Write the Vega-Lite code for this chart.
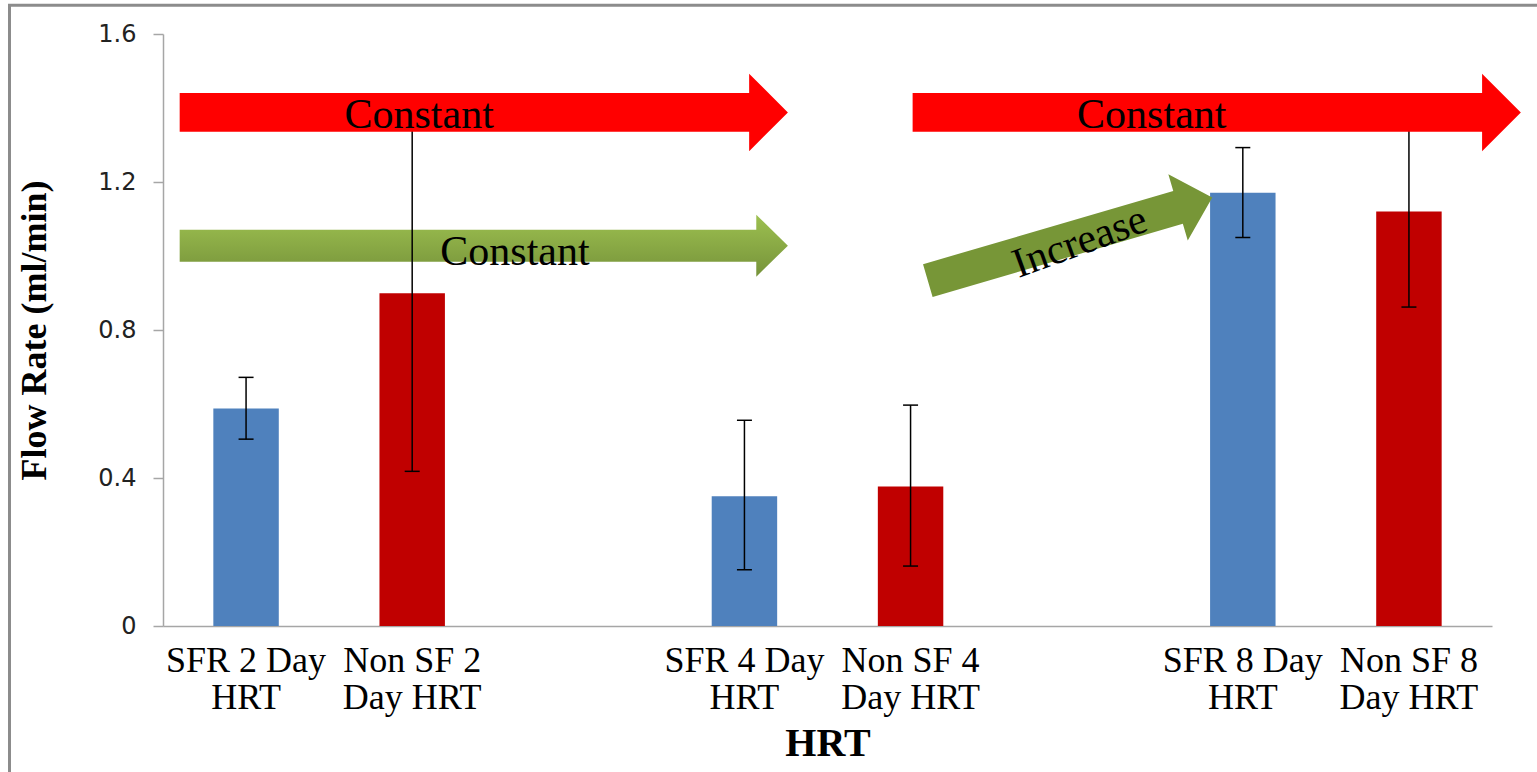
{
  "$schema": "https://vega.github.io/schema/vega-lite/v6.json",
  "width": 1329,
  "height": 592,
  "autosize": {"type": "none"},
  "padding": {"left": 163, "top": 34, "right": 45, "bottom": 146},
  "background": "white",
  "config": {"view": {"stroke": null}, "font": "Liberation Serif"},
  "datasets": {
    "bars": [
      {"cat": "SFR 2 Day|HRT", "flow": 0.588, "lo": 0.505, "hi": 0.672, "type": "SFR"},
      {"cat": "Non SF 2|Day HRT", "flow": 0.899, "lo": 0.418, "hi": 1.38, "type": "Non SF"},
      {"cat": "SFR 4 Day|HRT", "flow": 0.351, "lo": 0.152, "hi": 0.556, "type": "SFR"},
      {"cat": "Non SF 4|Day HRT", "flow": 0.377, "lo": 0.162, "hi": 0.597, "type": "Non SF"},
      {"cat": "SFR 8 Day|HRT", "flow": 1.171, "lo": 1.05, "hi": 1.293, "type": "SFR"},
      {"cat": "Non SF 8|Day HRT", "flow": 1.12, "lo": 0.862, "hi": 1.38, "type": "Non SF"}
    ],
    "arrows": [
      {"kind": "red", "x": 1.931, "y": 1.388},
      {"kind": "red", "x": 6.343, "y": 1.388},
      {"kind": "green", "x": 1.931, "y": 1.028},
      {"kind": "increase", "x": 5.46, "y": 1.046}
    ],
    "notes": [
      {"kind": "constant", "text": "Constant", "x": 1.542, "y": 1.346},
      {"kind": "constant", "text": "Constant", "x": 5.952, "y": 1.346},
      {"kind": "constant", "text": "Constant", "x": 2.119, "y": 0.977},
      {"kind": "increase", "text": "Increase", "x": 5.545, "y": 1.005}
    ]
  },
  "layer": [
    {
      "data": {"values": [{}]},
      "mark": {"type": "rect", "filled": false, "fill": null, "stroke": "#8c8c8c", "strokeWidth": 3},
      "encoding": {
        "x": {"datum": -0.924, "type": "quantitative", "scale": {"domain": [0, 8], "nice": false}, "axis": null},
        "x2": {"datum": 8.41},
        "y": {"datum": 1.678, "type": "quantitative", "scale": {"domain": [0, 1.6]}, "title": "Flow Rate (ml/min)"},
        "y2": {"datum": -0.47}
      }
    },
    {
      "data": {"name": "bars"},
      "mark": {"type": "bar"},
      "encoding": {
        "x": {
          "field": "cat", "type": "nominal", "sort": null,
          "scale": {"domain": ["SFR 2 Day|HRT", "Non SF 2|Day HRT", "gap1", "SFR 4 Day|HRT", "Non SF 4|Day HRT", "gap2", "SFR 8 Day|HRT", "Non SF 8|Day HRT"], "paddingInner": 0.606, "paddingOuter": 0.303},
          "axis": {
            "title": "HRT", "ticks": false, "domainColor": "#a6a6a6", "domainWidth": 1.5,
            "labelExpr": "indexof(datum.label, 'gap') === 0 ? '' : split(datum.label, '|')",
            "labelFont": "Liberation Serif", "labelFontSize": 36, "labelColor": "#000", "labelAngle": 0,
            "labelPadding": 17, "labelLineHeight": 37, "labelLimit": 0, "labelOverlap": false, "labelBaseline": "top",
            "titleFont": "Liberation Serif", "titleFontSize": 40, "titleFontWeight": "bold", "titleColor": "#000", "titlePadding": 8
          }
        },
        "y": {
          "field": "flow", "type": "quantitative", "scale": {"domain": [0, 1.6]}, "title": "Flow Rate (ml/min)",
          "axis": {
            "values": [0, 0.4, 0.8, 1.2, 1.6], "format": ".1~f", "grid": false,
            "tickSize": 10, "tickColor": "#a6a6a6", "tickWidth": 1.5, "domainColor": "#a6a6a6", "domainWidth": 1.5,
            "labelFont": "DejaVu Sans", "labelFontSize": 24, "labelColor": "#222", "labelPadding": 17,
            "titleFont": "Liberation Serif", "titleFontSize": 36, "titleFontWeight": "bold", "titleColor": "#000", "titlePadding": 44
          }
        },
        "color": {"field": "type", "type": "nominal", "scale": {"domain": ["SFR", "Non SF"], "range": ["#4f81bd", "#c00000"]}, "legend": null}
      }
    },
    {
      "data": {"name": "arrows"},
      "transform": [{"filter": "datum.kind === 'green'"}],
      "mark": {
        "type": "point", "filled": true, "opacity": 1, "strokeWidth": 0, "size": 384400,
        "shape": "M-0.981,-0.0516L0.879,-0.0516L0.879,-0.1L0.981,0L0.879,0.1L0.879,0.0516L-0.981,0.0516Z",
        "fill": {"gradient": "linear", "x1": 0, "y1": 0, "x2": 0, "y2": 1, "stops": [{"offset": 0, "color": "#9dc050"}, {"offset": 1, "color": "#76933a"}]}
      },
      "encoding": {
        "x": {"field": "x", "type": "quantitative", "scale": {"domain": [0, 8], "nice": false}, "axis": null},
        "y": {"field": "y", "type": "quantitative", "scale": {"domain": [0, 1.6]}, "title": "Flow Rate (ml/min)"}
      }
    },
    {
      "data": {"name": "arrows"},
      "transform": [{"filter": "datum.kind === 'increase'"}],
      "mark": {
        "type": "point", "filled": true, "opacity": 1, "strokeWidth": 0, "size": 96100, "angle": 343.7,
        "shape": "M-0.956,-0.11L0.726,-0.11L0.726,-0.223L0.956,0L0.726,0.223L0.726,0.11L-0.956,0.11Z",
        "fill": "#779637"
      },
      "encoding": {
        "x": {"field": "x", "type": "quantitative", "scale": {"domain": [0, 8], "nice": false}, "axis": null},
        "y": {"field": "y", "type": "quantitative", "scale": {"domain": [0, 1.6]}, "title": "Flow Rate (ml/min)"}
      }
    },
    {
      "data": {"name": "bars"},
      "mark": {"type": "rule", "color": "#000", "strokeWidth": 1.5},
      "encoding": {
        "x": {"field": "cat", "type": "nominal", "sort": null,
          "scale": {"domain": ["SFR 2 Day|HRT", "Non SF 2|Day HRT", "gap1", "SFR 4 Day|HRT", "Non SF 4|Day HRT", "gap2", "SFR 8 Day|HRT", "Non SF 8|Day HRT"], "paddingInner": 0.606, "paddingOuter": 0.303},
          "axis": null},
        "y": {"field": "lo", "type": "quantitative", "scale": {"domain": [0, 1.6]}, "title": "Flow Rate (ml/min)"},
        "y2": {"field": "hi"}
      }
    },
    {
      "data": {"name": "bars"},
      "mark": {"type": "tick", "orient": "horizontal", "size": 15, "thickness": 1.5, "color": "#000", "opacity": 1},
      "encoding": {
        "x": {"field": "cat", "type": "nominal", "sort": null,
          "scale": {"domain": ["SFR 2 Day|HRT", "Non SF 2|Day HRT", "gap1", "SFR 4 Day|HRT", "Non SF 4|Day HRT", "gap2", "SFR 8 Day|HRT", "Non SF 8|Day HRT"], "paddingInner": 0.606, "paddingOuter": 0.303},
          "axis": null},
        "y": {"field": "lo", "type": "quantitative", "scale": {"domain": [0, 1.6]}, "title": "Flow Rate (ml/min)"}
      }
    },
    {
      "data": {"name": "bars"},
      "mark": {"type": "tick", "orient": "horizontal", "size": 15, "thickness": 1.5, "color": "#000", "opacity": 1},
      "encoding": {
        "x": {"field": "cat", "type": "nominal", "sort": null,
          "scale": {"domain": ["SFR 2 Day|HRT", "Non SF 2|Day HRT", "gap1", "SFR 4 Day|HRT", "Non SF 4|Day HRT", "gap2", "SFR 8 Day|HRT", "Non SF 8|Day HRT"], "paddingInner": 0.606, "paddingOuter": 0.303},
          "axis": null},
        "y": {"field": "hi", "type": "quantitative", "scale": {"domain": [0, 1.6]}, "title": "Flow Rate (ml/min)"}
      }
    },
    {
      "data": {"name": "arrows"},
      "transform": [{"filter": "datum.kind === 'red'"}],
      "mark": {
        "type": "point", "filled": true, "opacity": 1, "strokeWidth": 0, "size": 384400,
        "shape": "M-0.981,-0.0624L0.856,-0.0624L0.856,-0.125L0.981,0L0.856,0.125L0.856,0.0624L-0.981,0.0624Z",
        "fill": "#ff0000"
      },
      "encoding": {
        "x": {"field": "x", "type": "quantitative", "scale": {"domain": [0, 8], "nice": false}, "axis": null},
        "y": {"field": "y", "type": "quantitative", "scale": {"domain": [0, 1.6]}, "title": "Flow Rate (ml/min)"}
      }
    },
    {
      "data": {"name": "notes"},
      "transform": [{"filter": "datum.kind === 'constant'"}],
      "mark": {"type": "text", "font": "Liberation Serif", "fontSize": 42, "color": "#000", "align": "center", "baseline": "alphabetic"},
      "encoding": {
        "x": {"field": "x", "type": "quantitative", "scale": {"domain": [0, 8], "nice": false}, "axis": null},
        "y": {"field": "y", "type": "quantitative", "scale": {"domain": [0, 1.6]}, "title": "Flow Rate (ml/min)"},
        "text": {"field": "text"}
      }
    },
    {
      "data": {"name": "notes"},
      "transform": [{"filter": "datum.kind === 'increase'"}],
      "mark": {"type": "text", "font": "Liberation Serif", "fontSize": 42, "color": "#000", "align": "center", "baseline": "alphabetic", "angle": 340},
      "encoding": {
        "x": {"field": "x", "type": "quantitative", "scale": {"domain": [0, 8], "nice": false}, "axis": null},
        "y": {"field": "y", "type": "quantitative", "scale": {"domain": [0, 1.6]}, "title": "Flow Rate (ml/min)"},
        "text": {"field": "text"}
      }
    }
  ],
  "resolve": {"scale": {"x": "independent"}, "axis": {"x": "independent"}}
}
